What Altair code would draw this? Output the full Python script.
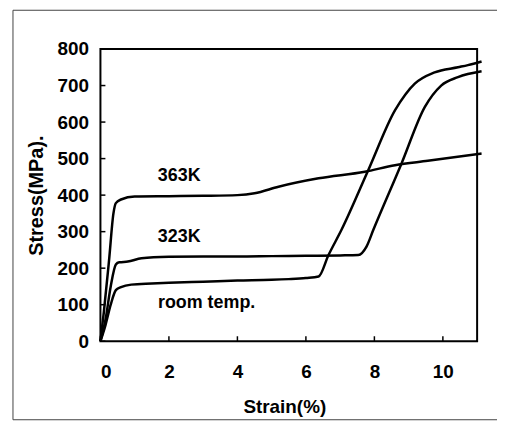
import altair as alt
import pandas as pd

# ---- data ----
rt_strain = [0, 0.15, 0.3, 0.45, 0.6, 0.9, 1.5, 2, 3, 4, 5, 5.5, 6, 6.37, 6.66, 7.04, 7.82, 8.6, 8.9, 9.18, 9.76, 10.44, 10.73, 11.13]
rt_stress = [0, 45, 100, 140, 148, 155, 158, 160, 163, 166, 168, 170, 173, 177, 236, 305, 468, 632, 675, 705, 736, 750, 756, 766]

k323_strain = [0, 0.15, 0.3, 0.45, 0.55, 0.8, 1.2, 2, 3, 4, 5, 6, 7, 7.53, 7.77, 7.97, 8.79, 9.47, 9.95, 10.44, 11.13]
k323_stress = [0, 60, 150, 210, 216, 218, 227, 231, 232, 232, 233, 234, 235, 236, 259, 305, 486, 641, 700, 723, 739]

k363_strain = [0, 0.1, 0.25, 0.38, 0.45, 0.6, 1.0, 2, 3, 4, 4.5, 5.2, 6.37, 7.72, 8.6, 9.56, 11.13]
k363_stress = [0, 80, 220, 350, 378, 388, 396, 397, 398, 400, 405, 423, 446, 464, 482, 494, 514]

label_text = ["363K", "323K", "room temp."]
label_x = [2.3, 2.3, 3.1]
label_y = [452, 286, 105]

x_ticks = [0, 2, 4, 6, 8, 10]
y_ticks = [0, 100, 200, 300, 400, 500, 600, 700, 800]

rows = []
for name, xs, ys in [("room", rt_strain, rt_stress), ("323K", k323_strain, k323_stress), ("363K", k363_strain, k363_stress)]:
    for i, (a, b) in enumerate(zip(xs, ys)):
        rows.append({"series": name, "idx": i, "strain": a, "stress": b})
df = pd.DataFrame(rows)
labels = pd.DataFrame({"t": label_text, "x": label_x, "y": label_y})
xt = pd.DataFrame({"v": x_ticks})
yt = pd.DataFrame({"v": y_ticks})
one = pd.DataFrame({"a": [0]})

W, H = 379, 294
FONT = "Liberation Sans"

xscale = alt.Scale(domain=[0, 11], nice=False)
yscale = alt.Scale(domain=[0, 800], nice=False)

xaxis = alt.Axis(
    title="Strain(%)", values=x_ticks, ticks=False, domain=False, grid=False,
    labelOverlap=False,
    labelFont=FONT, labelFontWeight="bold", labelFontSize=19, labelColor="black",
    labelPadding=22, titleFont=FONT, titleFontWeight="bold", titleFontSize=19,
    titleColor="black", titleX=185, titleY=66, titleBaseline="middle")
yaxis = alt.Axis(
    title="Stress(MPa).", values=y_ticks, ticks=False, domain=False, grid=False,
    labelOverlap=False,
    labelFont=FONT, labelFontWeight="bold", labelFontSize=19, labelColor="black",
    labelPadding=12, titleFont=FONT, titleFontWeight="bold", titleFontSize=20,
    titleColor="black", titleX=-64, titleY=H / 2, titleBaseline="middle")

lines = alt.Chart(df).mark_line(color="black", strokeWidth=2.5, clip=False, interpolate="monotone").encode(
    x=alt.X("strain:Q", scale=xscale, axis=xaxis),
    y=alt.Y("stress:Q", scale=yscale, axis=yaxis),
    detail="series:N",
    order="idx:Q",
)

text = alt.Chart(labels).mark_text(font=FONT, fontWeight="bold", fontSize=18, color="black",
                                   align="center", baseline="middle").encode(
    x=alt.X("x:Q", scale=xscale, axis=xaxis), y=alt.Y("y:Q", scale=yscale, axis=yaxis), text="t:N")

yticks = alt.Chart(yt).mark_rule(color="black", strokeWidth=1.5).encode(
    y=alt.Y("v:Q", scale=yscale, axis=yaxis), x=alt.value(0), x2=alt.value(5))
xticks = alt.Chart(xt).mark_rule(color="black", strokeWidth=1.5).encode(
    x=alt.X("v:Q", scale=xscale, axis=xaxis), y=alt.value(H), y2=alt.value(H - 5))

# plot frame
frame = alt.Chart(one).mark_rect(fill=None, stroke="black", strokeWidth=2).encode(
    x=alt.value(0), x2=alt.value(W), y=alt.value(0), y2=alt.value(H))

# outer page border (top, left, bottom)
b_top = alt.Chart(one).mark_rule(color="#444", strokeWidth=1).encode(
    x=alt.value(-88), x2=alt.value(420), y=alt.value(-39))
b_left = alt.Chart(one).mark_rule(color="#444", strokeWidth=1).encode(
    x=alt.value(-88), y=alt.value(-39), y2=alt.value(373))
b_bot = alt.Chart(one).mark_rule(color="#444", strokeWidth=1).encode(
    x=alt.value(-88), x2=alt.value(420), y=alt.value(373))

chart = alt.layer(lines, text, yticks, xticks, frame, b_top, b_left, b_bot).properties(
    width=W, height=H,
    background="white",
    autosize=alt.AutoSizeParams(type="none"),
    padding={"left": 93, "top": 40, "right": 20, "bottom": 80},
).configure_view(stroke=None)

chart.save("out.html", embed_options={"renderer": "svg", "actions": False})
